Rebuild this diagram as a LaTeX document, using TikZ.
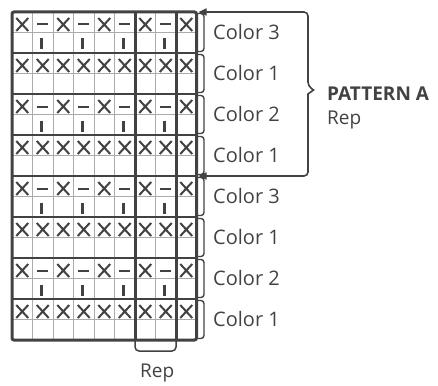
\documentclass[tikz,border=0pt]{standalone}
\usepackage{fontspec}
\setmainfont{Open Sans}
\usetikzlibrary{arrows.meta}
\definecolor{ink}{HTML}{424242}
\definecolor{faint}{HTML}{ABABAB}
\tikzset{
  heavy/.style={draw=ink, line width=3pt},
  rowsep/.style={draw=ink, line width=2.6pt},
  thin/.style={draw=faint, line width=0.9pt},
  brk/.style={draw=ink, line width=1.4pt, rounded corners=3pt},
  lbl/.style={text=ink, inner sep=0pt, font=\fontsize{20}{24}\selectfont},
  head/.style={text=ink, inner sep=0pt, font=\fontsize{19}{23}\selectfont\bfseries},
  note/.style={text=ink, inner sep=0pt, font=\fontsize{19}{23}\selectfont},
  xmk/.pic={\draw[ink, line width=2pt] (-6,-6.5) -- (6,6.5) (-6,6.5) -- (6,-6.5);},
  dashmk/.pic={\draw[ink, line width=2pt] (-5.5,0) -- (5.5,0);},
  barmk/.pic={\draw[ink, line width=2.6pt] (-1.5,14) -- (-1.5,25);}
}
\begin{document}
\begin{tikzpicture}[x=1pt, y=-1pt]
\useasboundingbox (0,0) rectangle (438,385);

% light chart grid: column lines and the middle line of each colour row
\foreach \c in {1,...,8}
  \draw[thin] ({12+\c*20.5},12) -- ({12+\c*20.5},340);
\foreach \r in {0,...,7}
  \draw[thin] (12,{12+\r*41+20.5}) -- (196.5,{12+\r*41+20.5});

% knit symbols: X in odd columns of every row
\foreach \r in {0,...,7}
  \foreach \c in {1,3,5,7,9}
    \pic at ({12+(\c-0.5)*20.5},{12+\r*41+12.5}) {xmk};
% solid colour rows: X in the even columns too
\foreach \r in {1,3,5,7}
  \foreach \c in {2,4,6,8}
    \pic at ({12+(\c-0.5)*20.5},{12+\r*41+12.5}) {xmk};
% contrast rows: purl dash and slipped-stitch bar
\foreach \r in {0,2,4,6}
  \foreach \c in {2,4,6,8} {
    \pic at ({12+(\c-0.5)*20.5},{12+\r*41+12.5}) {dashmk};
    \pic at ({12+(\c-0.5)*20.5},{12+\r*41+12.5}) {barmk};
  }

% heavy row separators and repeat columns
\foreach \r in {1,...,7}
  \draw[rowsep] (12,{12+\r*41}) -- (196.5,{12+\r*41});
\draw[heavy] (135,12) -- (135,340);
\draw[heavy] (176,12) -- (176,340);
\draw[heavy, rounded corners=2pt] (12,12) rectangle (196.5,340);

% small brackets for each colour row
\foreach \r in {0,...,7}
  \draw[brk] (198,{12+\r*41+1.5}) -- (204,{12+\r*41+1.5})
             -- (204,{12+\r*41+39.5}) -- (198,{12+\r*41+39.5});

% colour labels
\node[lbl, anchor=base west] (l1) at (213,{32.5+7}) {Color 3};
\node[lbl, anchor=base west] (l2) at (213,{73.5+7}) {Color 1};
\node[lbl, anchor=base west] (l3) at (213,{114.5+7}) {Color 2};
\node[lbl, anchor=base west] (l4) at (213,{155.5+7}) {Color 1};
\node[lbl, anchor=base west] (l5) at (213,{196.5+7}) {Color 3};
\node[lbl, anchor=base west] (l6) at (213,{237.5+7}) {Color 1};
\node[lbl, anchor=base west] (l7) at (213,{278.5+7}) {Color 2};
\node[lbl, anchor=base west] (l8) at (213,{319.5+7}) {Color 1};

% pattern repeat brace
\coordinate (pa-top) at (198.5,12);
\coordinate (pa-bot) at (198.5,176);
\draw[ink, line width=1.6pt, {Triangle[length=8pt,width=7pt]}-{Triangle[length=8pt,width=7pt]}]
  (pa-top) [rounded corners=4pt] -- (308,12) -- (308,86) [sharp corners] -- (313.5,90)
  -- (308,94) [rounded corners=4pt] -- (308,176) -- (pa-bot);
\node[head, anchor=base west] (pat) at (327,100) {PATTERN A};
\node[note, anchor=base west] (prep) at (327,124) {Rep};

% stitch repeat bracket under the chart
\draw[brk, line width=1.5pt, rounded corners=4pt] (135,341) -- (135,351) -- (176,351) -- (176,341);
\node[note, anchor=base west] (srep) at (140,377) {Rep};
\end{tikzpicture}
\end{document}
